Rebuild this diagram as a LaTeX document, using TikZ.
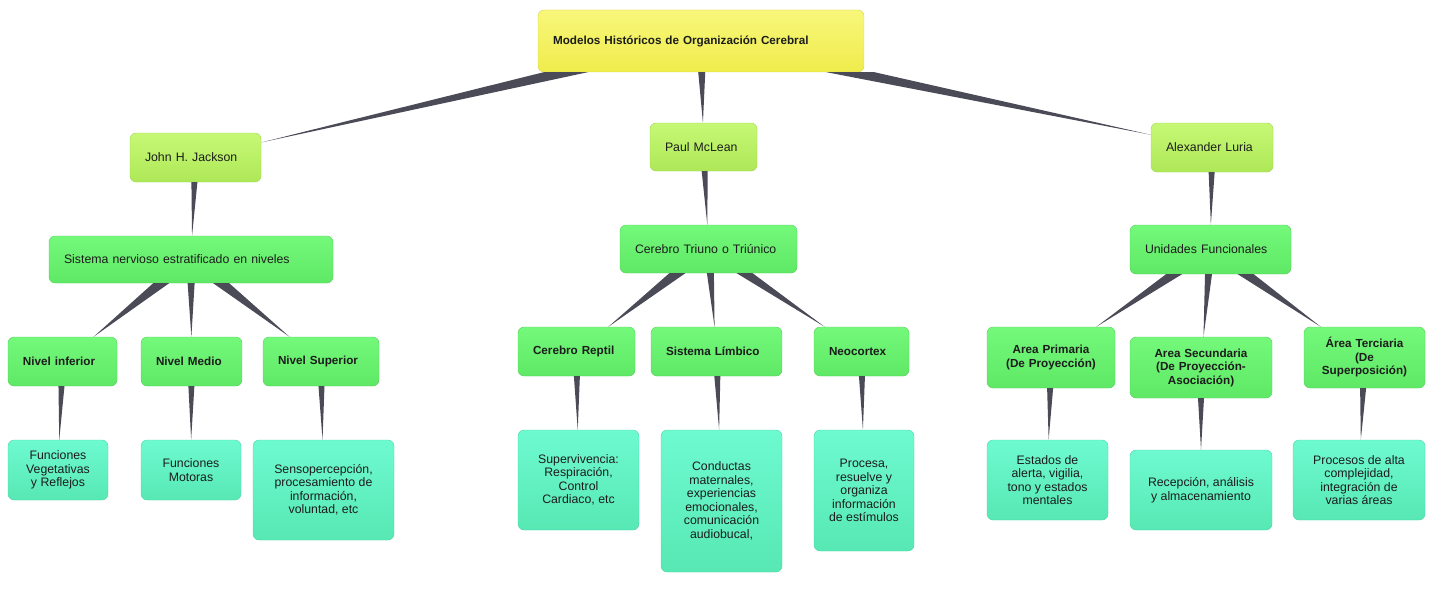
\documentclass[tikz,border=0pt]{standalone}
\usepackage{fontspec}
\setmainfont{Liberation Sans}
\usepackage{tikz}
\usetikzlibrary{calc}
\definecolor{titletop}{HTML}{F8F77A}
\definecolor{titlebot}{HTML}{EFEC4C}
\definecolor{titledraw}{HTML}{D6D44C}
\definecolor{authortop}{HTML}{C6F875}
\definecolor{authorbot}{HTML}{AEE857}
\definecolor{authordraw}{HTML}{9FD552}
\definecolor{topictop}{HTML}{74F97A}
\definecolor{topicbot}{HTML}{5FE866}
\definecolor{topicdraw}{HTML}{55CF5E}
\definecolor{leaftop}{HTML}{6EFAD0}
\definecolor{leafbot}{HTML}{57E8B4}
\definecolor{leafdraw}{HTML}{4FD6A6}
\definecolor{linkcol}{HTML}{4A4B57}
\definecolor{textcol}{HTML}{1C1C1C}
\tikzstyle{box}=[draw, rounded corners=6pt, inner xsep=15pt, inner ysep=3pt, text=textcol, font=\fontsize{12.3}{13.5}\selectfont]
\tikzstyle{title}=[box, top color=titletop, bottom color=titlebot, draw=titledraw, align=left, font=\bfseries\fontsize{11.7}{13.5}\selectfont]
\tikzstyle{author}=[box, top color=authortop, bottom color=authorbot, draw=authordraw, align=left]
\tikzstyle{topic}=[box, top color=topictop, bottom color=topicbot, draw=topicdraw, align=left]
\tikzstyle{part}=[box, top color=topictop, bottom color=topicbot, draw=topicdraw, align=left, font=\bfseries\fontsize{11.7}{13.5}\selectfont]
\tikzstyle{leaf}=[box, top color=leaftop, bottom color=leafbot, draw=leafdraw, align=center, inner xsep=4pt]
% tapered link: flat base on the parent's lower edge, pointed at the child
\newcommand{\taper}[3]{%
  \path (#1) -- (#2) coordinate[pos=0] (from) coordinate[pos=1] (to);
  \fill[linkcol] ($(from)+(-#3,0)$) -- (to) -- ($(from)+(#3,0)$) -- cycle;}

\begin{document}
\begin{tikzpicture}[x=1pt, y=-1pt]
      \useasboundingbox (0,0) rectangle (1443,594);

      \node[title, text width=296pt, minimum height=62pt] (root) at (701,41) {Modelos Históricos de Organización Cerebral};

      \node[author, text width=101pt, minimum height=49pt] (jackson) at (195.5,157.5) {John H. Jackson};
      \node[author, text width=77pt, minimum height=48pt] (mclean) at (703.5,147) {Paul McLean};
      \node[author, text width=92pt, minimum height=49pt] (luria) at (1212,147.5) {Alexander Luria};

      \node[topic, text width=254pt, minimum height=47pt] (niveles) at (191,259.5) {Sistema nervioso estratificado en niveles};
      \node[topic, text width=147pt, minimum height=48pt] (triuno) at (708.5,249) {Cerebro Triuno o Triúnico};
      \node[topic, text width=131pt, minimum height=49pt] (unidades) at (1210.5,249.5) {Unidades Funcionales};

      \node[part, text width=79pt, minimum height=49pt] (inferior) at (62.5,361.5) {Nivel inferior};
      \node[part, text width=71pt, minimum height=49pt] (medio) at (191.5,361.5) {Nivel Medio};
      \node[part, text width=86pt, minimum height=49pt] (superior) at (321,361.5) {Nivel Superior};
      \node[part, text width=87pt, minimum height=49pt] (reptil) at (576.5,351.5) {Cerebro Reptil};
      \node[part, text width=101pt, minimum height=49pt] (limbico) at (716.5,351.5) {Sistema Límbico};
      \node[part, text width=65pt, minimum height=49pt] (neocortex) at (861.5,351.5) {Neocortex};
      \node[part, align=center, inner xsep=4pt, text width=120pt, minimum height=61pt] (primaria) at (1051,357.5) {Area Primaria\\(De Proyección)};
      \node[part, align=center, inner xsep=4pt, text width=134pt, minimum height=61pt] (secundaria) at (1201,367.5) {Area Secundaria\\(De Proyección-\\Asociación)};
      \node[part, align=center, inner xsep=4pt, text width=113pt, minimum height=61pt] (terciaria) at (1364.5,357.5) {Área Terciaria\\(De\\Superposición)};

      \node[leaf, minimum width=100pt, minimum height=60pt] (vegetativas) at (58,470) {Funciones\\Vegetativas\\y Reflejos};
      \node[leaf, minimum width=100pt, minimum height=60pt] (motoras) at (191,470) {Funciones\\Motoras};
      \node[leaf, minimum width=141pt, minimum height=100pt] (senso) at (323.5,490) {Sensopercepción,\\procesamiento de\\información,\\voluntad, etc};
      \node[leaf, minimum width=121pt, minimum height=100pt] (supervivencia) at (578.5,480) {Supervivencia:\\Respiración,\\Control\\Cardiaco, etc};
      \node[leaf, minimum width=121pt, minimum height=142pt] (conductas) at (721.5,501) {Conductas\\maternales,\\experiencias\\emocionales,\\comunicación\\audiobucal,};
      \node[leaf, minimum width=100pt, minimum height=121pt] (procesa) at (864,490.5) {Procesa,\\resuelve y\\organiza\\información\\de estímulos};
      \node[leaf, minimum width=121pt, minimum height=80pt] (estados) at (1047.5,480) {Estados de\\alerta, vigilia,\\tono y estados\\mentales};
      \node[leaf, minimum width=142pt, minimum height=80pt] (recepcion) at (1201,490) {Recepción, análisis\\y almacenamiento};
      \node[leaf, minimum width=132pt, minimum height=80pt] (complejidad) at (1359,480) {Procesos de alta\\complejidad,\\integración de\\varias áreas};

      \foreach \p/\c/\w in {root/jackson/22pt, root/mclean/3.5pt, root/luria/24pt,
        jackson/niveles/3pt, mclean/triuno/3pt, luria/unidades/3pt,
        niveles/inferior/8pt, niveles/medio/3.5pt, niveles/superior/8pt,
        triuno/reptil/8pt, triuno/limbico/3.5pt, triuno/neocortex/8pt,
        unidades/primaria/8pt, unidades/secundaria/3.5pt, unidades/terciaria/8pt,
        inferior/vegetativas/3pt, medio/motoras/3pt, superior/senso/3pt,
        reptil/supervivencia/3pt, limbico/conductas/3pt, neocortex/procesa/3pt,
        primaria/estados/3pt, secundaria/recepcion/3pt, terciaria/complejidad/3pt}{
        \taper{\p}{\c}{\w}
      }
\end{tikzpicture}
\end{document}
